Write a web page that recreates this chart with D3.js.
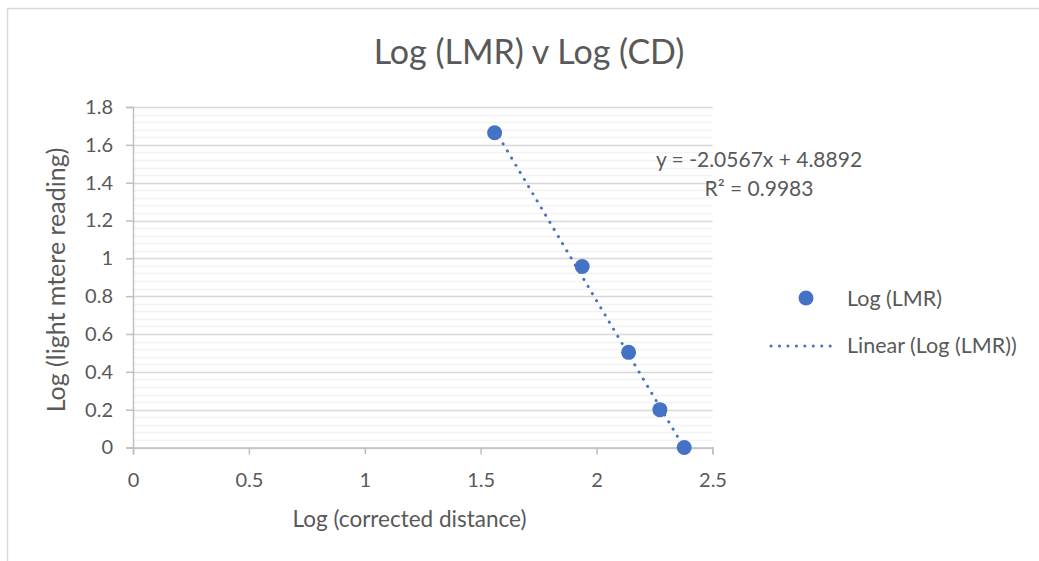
<!DOCTYPE html>
<html>
<head>
<meta charset="utf-8">
<title>Log (LMR) v Log (CD)</title>
<script src="https://d3js.org/d3.v7.min.js"></script>
<style>
	body { margin: 0; background: #fff; }
	svg text { font-family: Lato, "Open Sans", sans-serif; fill: #595959; }
</style>
</head>
<body>
<svg width="1039" height="561"></svg>
<script>
// data
var logCD = [1.560, 1.938, 2.138, 2.273, 2.378];
var logLMR = [1.664, 0.957, 0.503, 0.200, 0.0];
var xTicks = [0, 0.5, 1, 1.5, 2, 2.5];
var yTicks = [0, 0.2, 0.4, 0.6, 0.8, 1, 1.2, 1.4, 1.6, 1.8];
var slope = -2.0567, intercept = 4.8892, r2 = 0.9983;

var svg = d3.select("svg");
var blue = "#4472c4";

// chart frame
svg.append("rect")
	.attr("x", 7.5).attr("y", 8.5)
	.attr("width", 1100).attr("height", 600)
	.attr("fill", "none").attr("stroke", "#d9d9d9").attr("stroke-width", 1.5);

var x = d3.scaleLinear().domain([0, 2.5]).range([133, 712.5]);
var y = d3.scaleLinear().domain([0, 1.8]).range([447.5, 107]);

// minor gridlines
var minor = d3.range(0, 1.8001, 0.04);
svg.append("g").selectAll("line")
	.data(minor)
	.enter().append("line")
	.attr("x1", x(0)).attr("x2", x(2.5))
	.attr("y1", function(d) { return Math.round(y(d)) + 0.5; })
	.attr("y2", function(d) { return Math.round(y(d)) + 0.5; })
	.attr("stroke", "#f2f2f2").attr("stroke-width", 1.5);

// major gridlines
svg.append("g").selectAll("line")
	.data(yTicks)
	.enter().append("line")
	.attr("x1", x(0)).attr("x2", x(2.5))
	.attr("y1", function(d) { return Math.round(y(d)) + 0.5; })
	.attr("y2", function(d) { return Math.round(y(d)) + 0.5; })
	.attr("stroke", "#d9d9d9").attr("stroke-width", 1.5);

// axes
var xAxis = svg.append("g")
	.attr("transform", "translate(0," + y(0) + ")")
	.call(d3.axisBottom(x).tickValues(xTicks).tickFormat(d3.format("")).tickSize(7).tickPadding(18));
var yAxis = svg.append("g")
	.attr("transform", "translate(" + x(0) + ",0)")
	.call(d3.axisLeft(y).tickValues(yTicks).tickFormat(d3.format("")).tickSize(7).tickPadding(13));
[xAxis, yAxis].forEach(function(a) {
	a.select(".domain").attr("stroke", "#bfbfbf").attr("stroke-width", 1.5);
	a.selectAll(".tick line").attr("stroke", "#bfbfbf").attr("stroke-width", 1.5);
	a.selectAll("text").attr("font-size", 20).attr("fill", "#595959")
		.style("font-family", "Lato, sans-serif");
});

// trendline
var xMin = d3.min(logCD), xMax = d3.max(logCD);
svg.append("line")
	.attr("x1", x(xMin)).attr("y1", y(slope * xMin + intercept))
	.attr("x2", x(xMax)).attr("y2", y(slope * xMax + intercept))
	.attr("stroke", blue).attr("stroke-width", 3)
	.attr("stroke-linecap", "round").attr("stroke-dasharray", "0.1 8.2");

// points
svg.append("g").selectAll("circle")
	.data(logCD)
	.enter().append("circle")
	.attr("cx", function(d) { return x(d); })
	.attr("cy", function(d, i) { return y(logLMR[i]); })
	.attr("r", 7.5)
	.attr("fill", blue);

// equation label
svg.append("text")
	.attr("x", 759).attr("y", 167)
	.attr("text-anchor", "middle").attr("font-size", 21)
	.text("y = " + slope + "x + " + intercept);
svg.append("text")
	.attr("x", 759).attr("y", 196)
	.attr("text-anchor", "middle").attr("font-size", 21)
	.text("R² = " + r2);

// title
svg.append("text")
	.attr("x", 529).attr("y", 64)
	.attr("text-anchor", "middle").attr("font-size", 34)
	.text("Log (LMR) v Log (CD)");

// axis titles
svg.append("text")
	.attr("x", 409.5).attr("y", 527)
	.attr("text-anchor", "middle").attr("font-size", 22.5)
	.text("Log (corrected distance)");
svg.append("text")
	.attr("transform", "translate(65,280) rotate(-90)")
	.attr("text-anchor", "middle").attr("font-size", 25)
	.text("Log (light mtere reading)");

// legend
svg.append("circle")
	.attr("cx", 806).attr("cy", 298).attr("r", 7.5).attr("fill", blue);
svg.append("text")
	.attr("x", 847).attr("y", 306).attr("font-size", 21.5)
	.text("Log (LMR)");
svg.append("line")
	.attr("x1", 771).attr("x2", 838).attr("y1", 346).attr("y2", 346)
	.attr("stroke", blue).attr("stroke-width", 3)
	.attr("stroke-linecap", "round").attr("stroke-dasharray", "0.1 8.35");
svg.append("text")
	.attr("x", 847).attr("y", 353).attr("font-size", 21.5)
	.text("Linear (Log (LMR))");
</script>
</body>
</html>
